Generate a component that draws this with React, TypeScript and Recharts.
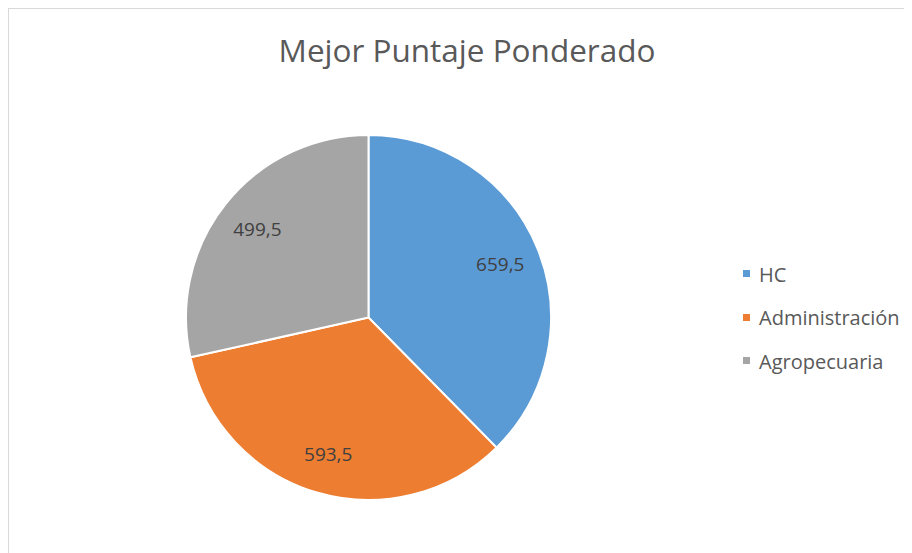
import { PieChart, Pie, Cell, Legend } from "recharts"

const categories = ["HC", "Administración", "Agropecuaria"]
const values = [659.5, 593.5, 499.5]
const colors = ["#5B9BD5", "#ED7D31", "#A5A5A5"]

const data = categories.map((name, i) => ({ name, value: values[i], fill: colors[i] }))

const RAD = Math.PI / 180
const FONT = "'Open Sans', sans-serif"

function renderLabel(props: any) {
  const { cx, cy, midAngle, outerRadius, value } = props
  const r = outerRadius * 0.78
  const x = cx + r * Math.cos(-midAngle * RAD)
  const y = cy + r * Math.sin(-midAngle * RAD)
  return (
    <text x={x} y={y} textAnchor="middle" dominantBaseline="central" fill="#404040" fontSize={19} fontFamily={FONT}>
      {String(value).replace(".", ",")}
    </text>
  )
}

function LegendList(props: any) {
  // keep the category order instead of the alphabetical one
  const payload = [...(props.payload || [])].sort(
    (a: any, b: any) => categories.indexOf(a.value) - categories.indexOf(b.value)
  )
  return (
    <div>
      {payload.map((p: any) => (
        <div key={p.value} style={{ height: 43.5, display: "flex", alignItems: "center" }}>
          <span style={{ width: 7, height: 7, background: p.color, marginRight: 9, marginTop: -2 }} />
          <span style={{ fontSize: 20, lineHeight: "20px", color: "#595959", fontFamily: FONT }}>{p.value}</span>
        </div>
      ))}
    </div>
  )
}

export default function App() {
  return (
    <div
      style={{
        position: "relative",
        width: 904,
        height: 545,
        boxSizing: "border-box",
        borderTop: "1px solid #d9d9d9",
        borderLeft: "1px solid #d9d9d9",
        background: "#fff",
      }}
    >
      <div
        style={{
          position: "absolute",
          left: 0,
          top: 25,
          width: 916,
          textAlign: "center",
          fontFamily: FONT,
          fontSize: 31.5,
          lineHeight: "32px",
          color: "#595959",
        }}
      >
        Mejor Puntaje Ponderado
      </div>
      <PieChart width={903} height={544} margin={{ top: 0, right: 0, bottom: 0, left: 0 }}>
        <Pie
          data={data}
          dataKey="value"
          nameKey="name"
          cx={359.5}
          cy={308.5}
          outerRadius={182.5}
          startAngle={90}
          endAngle={-270}
          stroke="#fff"
          strokeWidth={2}
          label={renderLabel}
          labelLine={false}
          isAnimationActive={false}
        >
          {data.map((d) => (
            <Cell key={d.name} fill={d.fill} />
          ))}
        </Pie>
        <Legend
          layout="vertical"
          align="right"
          verticalAlign="middle"
          content={<LegendList />}
          wrapperStyle={{ position: "absolute", left: 734, top: 244, width: 170 }}
        />
      </PieChart>
    </div>
  )
}
